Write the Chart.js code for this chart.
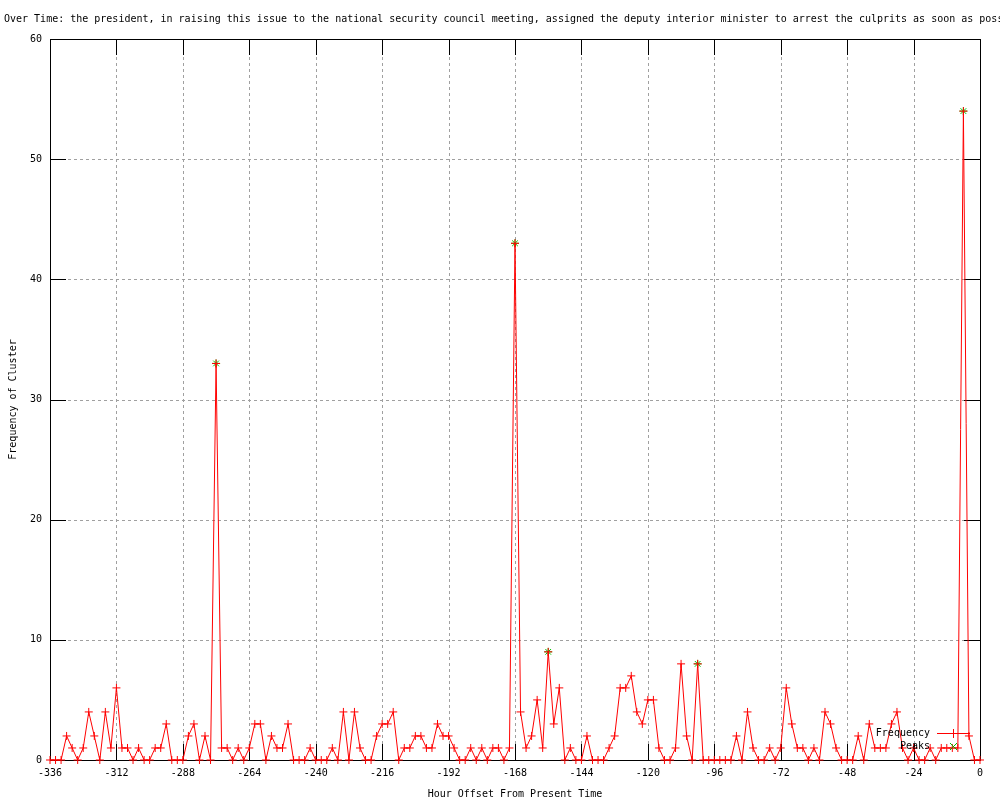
<!DOCTYPE html>
<html>
<head>
<meta charset="utf-8">
<script src="https://cdn.jsdelivr.net/npm/chart.js@4/dist/chart.umd.min.js"></script>
<style>
  html, body { margin: 0; padding: 0; background: #fff; }
  #wrap { width: 1000px; height: 800px; position: relative; }
</style>
</head>
<body>
<div id="wrap"><canvas id="clusterChart" width="1000" height="800"></canvas></div>
<script>
// --- Data ---
const titleText = 'Over Time: the president, in raising this issue to the national security council meeting, assigned the deputy interior minister to arrest the culprits as soon as possible';
const xTitle = 'Hour Offset From Present Time';
const yTitle = 'Frequency of Cluster';

const hours = [
  -336, -334, -332, -330, -328, -326, -324, -322, -320, -318, -316, -314,
  -312, -310, -308, -306, -304, -302, -300, -298, -296, -294, -292, -290,
  -288, -286, -284, -282, -280, -278, -276, -274, -272, -270, -268, -266,
  -264, -262, -260, -258, -256, -254, -252, -250, -248, -246, -244, -242,
  -240, -238, -236, -234, -232, -230, -228, -226, -224, -222, -220, -218,
  -216, -214, -212, -210, -208, -206, -204, -202, -200, -198, -196, -194,
  -192, -190, -188, -186, -184, -182, -180, -178, -176, -174, -172, -170,
  -168, -166, -164, -162, -160, -158, -156, -154, -152, -150, -148, -146,
  -144, -142, -140, -138, -136, -134, -132, -130, -128, -126, -124, -122,
  -120, -118, -116, -114, -112, -110, -108, -106, -104, -102, -100, -98,
  -96, -94, -92, -90, -88, -86, -84, -82, -80, -78, -76, -74,
  -72, -70, -68, -66, -64, -62, -60, -58, -56, -54, -52, -50,
  -48, -46, -44, -42, -40, -38, -36, -34, -32, -30, -28, -26,
  -24, -22, -20, -18, -16, -14, -12, -10, -8, -6, -4, -2,
  0
];

const frequency = [
  0, 0, 0, 2, 1, 0, 1, 4, 2, 0, 4, 1,
  6, 1, 1, 0, 1, 0, 0, 1, 1, 3, 0, 0,
  0, 2, 3, 0, 2, 0, 33, 1, 1, 0, 1, 0,
  1, 3, 3, 0, 2, 1, 1, 3, 0, 0, 0, 1,
  0, 0, 0, 1, 0, 4, 0, 4, 1, 0, 0, 2,
  3, 3, 4, 0, 1, 1, 2, 2, 1, 1, 3, 2,
  2, 1, 0, 0, 1, 0, 1, 0, 1, 1, 0, 1,
  43, 4, 1, 2, 5, 1, 9, 3, 6, 0, 1, 0,
  0, 2, 0, 0, 0, 1, 2, 6, 6, 7, 4, 3,
  5, 5, 1, 0, 0, 1, 8, 2, 0, 8, 0, 0,
  0, 0, 0, 0, 2, 0, 4, 1, 0, 0, 1, 0,
  1, 6, 3, 1, 1, 0, 1, 0, 4, 3, 1, 0,
  0, 0, 2, 0, 3, 1, 1, 1, 3, 4, 1, 0,
  1, 0, 0, 1, 0, 1, 1, 1, 1, 54, 2, 0,
  0
];

const peakHours = [-276, -168, -156, -102, -6];
const peakValues = [33, 43, 9, 8, 54];

const xTicks = [-336, -312, -288, -264, -240, -216, -192, -168, -144, -120, -96, -72, -48, -24, 0];
const yTicks = [0, 10, 20, 30, 40, 50, 60];

// --- Style ---
const MONO = '"DejaVu Sans Mono", "Liberation Mono", monospace';
const RED = '#ff0000';
const GREEN = '#00c000';
const TICK_LEN = 16;

// gnuplot-ish frame: dotted grid, border, inward ticks, titles and key
const gnuFrame = {
    id: 'gnuFrame',
    beforeDatasetsDraw(chart) {
        const { ctx, chartArea: a, scales: { x, y } } = chart;
        ctx.save();
        ctx.strokeStyle = '#a0a0a0';
        ctx.lineWidth = 1;
        ctx.setLineDash([3, 3]);
        xTicks.forEach(v => {
            if (v === xTicks[0] || v === xTicks[xTicks.length - 1]) return;
            const px = Math.round(x.getPixelForValue(v)) + 0.5;
            ctx.beginPath(); ctx.moveTo(px, a.top); ctx.lineTo(px, a.bottom); ctx.stroke();
        });
        yTicks.forEach(v => {
            if (v === yTicks[0] || v === yTicks[yTicks.length - 1]) return;
            const py = Math.round(y.getPixelForValue(v)) + 0.5;
            ctx.beginPath(); ctx.moveTo(a.left, py); ctx.lineTo(a.right, py); ctx.stroke();
        });
        ctx.setLineDash([]);
        ctx.strokeStyle = '#000';
        xTicks.forEach(v => {
            const px = Math.round(x.getPixelForValue(v)) + 0.5;
            ctx.beginPath();
            ctx.moveTo(px, a.bottom); ctx.lineTo(px, a.bottom - TICK_LEN);
            ctx.moveTo(px, a.top); ctx.lineTo(px, a.top + TICK_LEN);
            ctx.stroke();
        });
        yTicks.forEach(v => {
            const py = Math.round(y.getPixelForValue(v)) + 0.5;
            ctx.beginPath();
            ctx.moveTo(a.left, py); ctx.lineTo(a.left + TICK_LEN, py);
            ctx.moveTo(a.right, py); ctx.lineTo(a.right - TICK_LEN, py);
            ctx.stroke();
        });
        ctx.strokeRect(Math.round(a.left) + 0.5, Math.round(a.top) + 0.5,
            Math.round(a.right - a.left), Math.round(a.bottom - a.top));
        ctx.restore();
    },
    afterDraw(chart) {
        const { ctx, chartArea: a } = chart;
        ctx.save();
        ctx.fillStyle = '#000';
        ctx.font = '10px ' + MONO;
        ctx.textBaseline = 'alphabetic';
        ctx.textAlign = 'left';
        ctx.fillText(titleText, 4, 22);

        ctx.textAlign = 'center';
        ctx.fillText(xTitle, (a.left + a.right) / 2, 797);
        ctx.save();
        ctx.translate(16, (a.top + a.bottom) / 2);
        ctx.rotate(-Math.PI / 2);
        ctx.fillText(yTitle, 0, 0);
        ctx.restore();

        // key, bottom right inside the plot
        ctx.textAlign = 'right';
        ctx.textBaseline = 'middle';
        ctx.fillText('Frequency', 930, 733);
        ctx.fillText('Peaks', 930, 746);
        ctx.strokeStyle = RED;
        ctx.lineWidth = 1;
        ctx.beginPath();
        ctx.moveTo(937, 733.5); ctx.lineTo(970, 733.5);
        ctx.moveTo(953.5, 729); ctx.lineTo(953.5, 738);
        ctx.stroke();
        ctx.strokeStyle = GREEN;
        ctx.beginPath();
        ctx.moveTo(950, 743); ctx.lineTo(957, 750);
        ctx.moveTo(957, 743); ctx.lineTo(950, 750);
        ctx.stroke();
        ctx.restore();
    }
};

const ctx = document.getElementById('clusterChart').getContext('2d');
const clusterChart = new Chart(ctx, {
    type: 'line',
    data: {
        datasets: [{
            label: 'Frequency',
            data: hours.map((h, i) => ({ x: h, y: frequency[i] })),
            borderColor: RED,
            backgroundColor: RED,
            borderWidth: 1,
            pointStyle: 'cross',
            pointRadius: 4,
            pointBorderWidth: 1,
            pointBorderColor: RED,
            tension: 0,
            fill: false,
            clip: false
        }, {
            label: 'Peaks',
            data: peakHours.map((h, i) => ({ x: h, y: peakValues[i] })),
            showLine: false,
            borderColor: GREEN,
            backgroundColor: GREEN,
            pointStyle: 'star',
            pointRadius: 4,
            pointBorderWidth: 1,
            pointBorderColor: GREEN,
            clip: false
        }]
    },
    options: {
        responsive: false,
        animation: false,
        layout: { padding: { left: 0, right: 20, top: 39, bottom: 0 } },
        scales: {
            x: {
                type: 'linear',
                min: -336, max: 0,
                afterBuildTicks: s => { s.ticks = xTicks.map(v => ({ value: v })); },
                afterFit: s => { s.height = 40; },
                ticks: { color: '#000', font: { family: MONO, size: 10 }, padding: 7, maxRotation: 0, autoSkip: false },
                grid: { display: false, drawTicks: false },
                border: { display: false }
            },
            y: {
                min: 0, max: 60,
                afterBuildTicks: s => { s.ticks = yTicks.map(v => ({ value: v })); },
                afterFit: s => { s.width = 50; },
                ticks: { color: '#000', font: { family: MONO, size: 10 }, padding: 8 },
                grid: { display: false, drawTicks: false },
                border: { display: false }
            }
        },
        plugins: {
            legend: { display: false },
            tooltip: { enabled: false }
        }
    },
    plugins: [gnuFrame]
});
</script>
</body>
</html>
